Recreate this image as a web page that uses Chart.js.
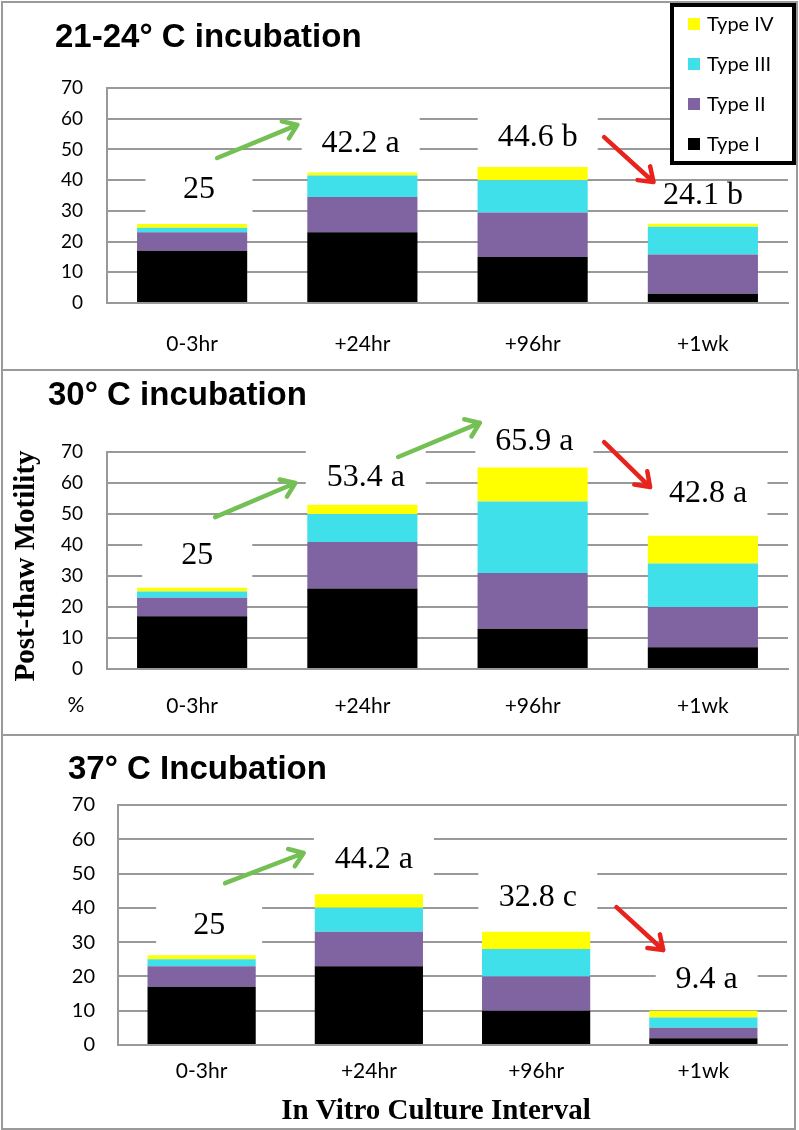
<!DOCTYPE html>
<html>
<head>
<meta charset="utf-8">
<script src="https://cdn.jsdelivr.net/npm/chart.js@4.4.1/dist/chart.umd.min.js"></script>
<style>
  body { margin: 0; width: 799px; height: 1130px; position: relative; overflow: hidden; background: #fff; }
  .frame { position: absolute; border: 2px solid #9a9a9a; box-sizing: border-box; }
  canvas { position: absolute; left: 0; }
</style>
</head>
<body>
<div class="frame" style="left:1px;top:1px;width:797px;height:370px"></div>
<div class="frame" style="left:1px;top:369px;width:798px;height:367px"></div>
<div class="frame" style="left:1px;top:734px;width:795px;height:396px"></div>
<canvas id="c1" width="799" height="370" style="top:0px"></canvas>
<canvas id="c2" width="799" height="365" style="top:370px"></canvas>
<canvas id="c3" width="799" height="395" style="top:735px"></canvas>
<script>
const categories = ['0-3hr', '+24hr', '+96hr', '+1wk'];
const typeNames = ['Type I', 'Type II', 'Type III', 'Type IV'];
const typeColors = ['#000000', '#8064A2', '#40E0EB', '#FFFF00'];
const yMax = 70;
const yStep = 10;

// 21-24 C
const room_I = [17, 23, 15, 3];
const room_II = [6, 11.5, 14.5, 12.8];
const room_III = [1.5, 7, 10.5, 9];
const room_IV = [1.2, 1, 4.3, 1];
const room_labels = ['25', '42.2 a', '44.6 b', '24.1 b'];

// 30 C
const warm_I = [17, 26, 13, 7];
const warm_II = [6, 15, 18, 13];
const warm_III = [2, 9, 23, 14];
const warm_IV = [1.2, 3, 11, 9];
const warm_labels = ['25', '53.4 a', '65.9 a', '42.8 a'];

// 37 C
const hot_I = [17, 23, 10, 2];
const hot_II = [6, 10, 10, 3];
const hot_III = [2, 7, 8, 3];
const hot_IV = [1.2, 4, 5, 2];
const hot_labels = ['25', '44.2 a', '32.8 c', '9.4 a'];

const GREEN = '#74C054';
const RED = '#E8231D';

// layout of each panel: plot box, label boxes [i, v, w, h], arrows [color, i1, v1, i2, v2]
const panels = [
  {
    id: 'c1', title: '21-24° C incubation', series: [room_I, room_II, room_III, room_IV], labels: room_labels,
    height: 370, plotTop: 88, plotLeft: 107, plotRight: 788, plotBottom: 303,
    tickSize: 19, tickPad: 24, xPad: 29, titleX: 55, titleY: 47,
    boxes: [[0.04, 36.8, 107, 46], [0.99, 52, 118, 60], [2.03, 54, 120, 50], [3.0, 34.9, 0, 0]],
    arrows: [[GREEN, 0.147, 47.2, 0.618, 58], [RED, 2.42, 54, 2.71, 39.4]],
    legend: true
  },
  {
    id: 'c2', title: '30° C incubation', series: [warm_I, warm_II, warm_III, warm_IV], labels: warm_labels,
    height: 365, plotTop: 82, plotLeft: 107, plotRight: 788, plotBottom: 299,
    tickSize: 19, tickPad: 24, xPad: 25, titleX: 48, titleY: 35,
    boxes: [[0.03, 36.5, 110, 50], [1.02, 61.9, 120, 56], [2.01, 73.2, 118, 40], [3.03, 56.5, 119, 48]],
    arrows: [[GREEN, 0.135, 49, 0.606, 60], [GREEN, 1.21, 68.4, 1.69, 79.4], [RED, 2.42, 73.2, 2.69, 58.7]],
    yTitle: true
  },
  {
    id: 'c3', title: '37° C Incubation', series: [hot_I, hot_II, hot_III, hot_IV], labels: hot_labels,
    height: 395, plotTop: 70, plotLeft: 118, plotRight: 787, plotBottom: 310,
    tickSize: 20, tickPad: 23, xPad: 14, titleX: 68, titleY: 44,
    boxes: [[0.045, 34.7, 106, 46], [1.03, 54.2, 120, 50], [2.01, 43, 119, 52], [3.02, 19.2, 102, 44]],
    arrows: [[GREEN, 0.14, 47.2, 0.61, 56], [RED, 2.48, 40.2, 2.76, 27.7]],
    xTitle: true
  }
];

function drawArrow(ctx, x1, y1, x2, y2, color) {
  const a = Math.atan2(y2 - y1, x2 - x1), head = 16, spread = 0.62;
  ctx.save();
  ctx.strokeStyle = color;
  ctx.lineWidth = 4.5;
  ctx.lineCap = 'round';
  ctx.lineJoin = 'round';
  ctx.beginPath();
  ctx.moveTo(x1, y1);
  ctx.lineTo(x2, y2);
  ctx.moveTo(x2 - head * Math.cos(a - spread), y2 - head * Math.sin(a - spread));
  ctx.lineTo(x2, y2);
  ctx.lineTo(x2 - head * Math.cos(a + spread), y2 - head * Math.sin(a + spread));
  ctx.stroke();
  ctx.restore();
}

function makeDecor(p) {
  return {
    id: 'decor_' + p.id,
    beforeDatasetsDraw(chart) {
      // white boxes behind the value labels hide the gridlines
      const { ctx, scales: { x, y } } = chart;
      ctx.save();
      ctx.fillStyle = '#fff';
      p.boxes.forEach(([i, v, w, h]) => {
        if (!w) return;
        ctx.fillRect(x.getPixelForValue(i) - w / 2, y.getPixelForValue(v) - h / 2, w, h);
      });
      ctx.restore();
    },
    afterDraw(chart) {
      const { ctx, scales: { x, y } } = chart;
      ctx.save();
      ctx.fillStyle = '#000';
      ctx.textBaseline = 'middle';
      ctx.textAlign = 'center';
      ctx.font = '32px "Liberation Serif"';
      p.boxes.forEach(([i, v], k) => {
        ctx.fillText(p.labels[k], x.getPixelForValue(i), y.getPixelForValue(v));
      });
      p.arrows.forEach(([c, i1, v1, i2, v2]) => {
        drawArrow(ctx, x.getPixelForValue(i1), y.getPixelForValue(v1), x.getPixelForValue(i2), y.getPixelForValue(v2), c);
      });

      ctx.textAlign = 'left';
      ctx.textBaseline = 'alphabetic';
      ctx.font = 'bold 33px "Liberation Sans"';
      ctx.fillText(p.title, p.titleX, p.titleY);

      if (p.yTitle) {
        ctx.save();
        ctx.translate(27, 196);
        ctx.rotate(-Math.PI / 2);
        ctx.textAlign = 'center';
        ctx.textBaseline = 'middle';
        ctx.font = 'bold 29px "Liberation Serif"';
        ctx.fillText('Post-thaw Motility', 0, 0);
        ctx.restore();
        ctx.textAlign = 'center';
        ctx.textBaseline = 'middle';
        ctx.font = '21px Lato';
        ctx.fillText('%', 76, 335);
      }
      if (p.xTitle) {
        ctx.textAlign = 'center';
        ctx.textBaseline = 'middle';
        ctx.font = 'bold 29px "Liberation Serif"';
        ctx.fillText('In Vitro Culture Interval', 436, 377);
      }
      if (p.legend) {
        ctx.lineWidth = 4;
        ctx.strokeStyle = '#000';
        ctx.fillStyle = '#fff';
        ctx.fillRect(672, 5, 122, 158);
        ctx.strokeRect(672, 5, 122, 158);
        ctx.font = '20px Lato';
        ctx.textAlign = 'left';
        ctx.textBaseline = 'middle';
        const ds = chart.data.datasets.slice().reverse();
        ds.forEach((d, k) => {
          const cy = 24 + k * 40;
          ctx.fillStyle = d.backgroundColor;
          ctx.fillRect(688, cy - 6, 12, 12);
          ctx.fillStyle = '#000';
          ctx.fillText(d.label, 707, cy + 1);
        });
      }
      ctx.restore();
    }
  };
}

panels.forEach(p => {
  const canvas = document.getElementById(p.id);
  new Chart(canvas, {
    type: 'bar',
    data: {
      labels: categories,
      datasets: p.series.map((vals, k) => ({
        label: typeNames[k],
        data: vals,
        backgroundColor: typeColors[k],
        borderWidth: 0,
        categoryPercentage: 1,
        barPercentage: 0.647
      }))
    },
    options: {
      responsive: false,
      animation: false,
      devicePixelRatio: 1,
      layout: { padding: { top: p.plotTop, right: 799 - p.plotRight, left: 0, bottom: 0 } },
      plugins: { legend: { display: false }, tooltip: { enabled: false } },
      scales: {
        x: {
          stacked: true,
          grid: { display: false, drawTicks: false },
          border: { display: true, color: '#999', width: 2 },
          ticks: { color: '#000', padding: p.xPad, font: { family: 'Lato', size: 21 } },
          afterFit(scale) { scale.height = p.height - p.plotBottom; }
        },
        y: {
          stacked: true,
          min: 0,
          max: yMax,
          grid: { color: '#999', lineWidth: 2, drawTicks: false },
          border: { display: true, color: '#999', width: 2 },
          ticks: { stepSize: yStep, color: '#000', padding: p.tickPad, font: { family: 'Lato', size: p.tickSize } },
          afterFit(scale) { scale.width = p.plotLeft; }
        }
      }
    },
    plugins: [makeDecor(p)]
  });
});
</script>
</body>
</html>
